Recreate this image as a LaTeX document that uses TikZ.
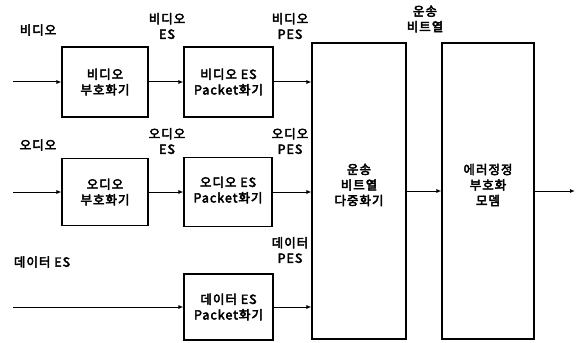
\documentclass[tikz,border=0pt]{standalone}
\usepackage{fontspec}
\setmainfont{Noto Sans CJK KR}[LetterSpace=8]
\usetikzlibrary{arrows.meta}
\newcommand{\heavytext}{\special{pdf:literal 2 Tr 0.45 w}}
\begin{document}
\begin{tikzpicture}[x=1pt,y=-1pt,
  blk/.style={draw,line width=1.1pt,inner sep=0pt},
  lbl/.style={font=\fontsize{12.5}{15.5}\selectfont,align=center,inner sep=0pt,
    execute at begin node=\heavytext},
  arr/.style={line width=1pt,-{Latex[length=5pt,width=4pt]}}]
\useasboundingbox (0,0) rectangle (577,342);
% boxes
\node[blk,minimum width=86pt,minimum height=70pt] (venc) at (105,82) {};
\node[blk,minimum width=89pt,minimum height=70pt] (vpkt) at (228.5,82) {};
\node[blk,minimum width=86pt,minimum height=67pt] (aenc) at (105,192) {};
\node[blk,minimum width=88pt,minimum height=69pt] (apkt) at (228,192) {};
\node[blk,minimum width=89pt,minimum height=66pt] (dpkt) at (228.5,307) {};
\node[blk,minimum width=94pt,minimum height=296pt] (mux) at (359,191) {};
\node[blk,minimum width=92pt,minimum height=296pt] (fec) at (488,191) {};
% box texts
\node[lbl] (tvenc) at (105,82) {비디오\\부호화기};
\node[lbl] (tvpkt) at (228.5,82) {비디오 ES\\Packet화기};
\node[lbl] (taenc) at (105,192) {오디오\\부호화기};
\node[lbl] (tapkt) at (228,190) {오디오 ES\\Packet화기};
\node[lbl] (tdpkt) at (228.5,307) {데이터 ES\\Packet화기};
\node[lbl] (tmux) at (359,185) {운송\\비트열\\다중화기};
\node[lbl] (tfec) at (488,185) {에러정정\\부호화\\모뎀};
% free labels
\node[lbl] (lv) at (38,30) {비디오};
\node[lbl] (lves) at (167,26) {비디오\\ES};
\node[lbl] (lvpes) at (290,26) {비디오\\PES};
\node[lbl] (lts) at (425,19) {운송\\비트열};
\node[lbl] (la) at (38,145) {오디오};
\node[lbl] (laes) at (167,141) {오디오\\ES};
\node[lbl] (lapes) at (290,141) {오디오\\PES};
\node[lbl] (ld) at (42,262) {데이터 ES};
\node[lbl] (ldpes) at (290,250) {데이터\\PES};
% connector ends
\coordinate (vin) at (13,82);
\coordinate (ain) at (13,192);
\coordinate (din) at (13,307);
\coordinate (out) at (575,191);
% connectors
\draw[arr] (vin) -- (venc.west);
\draw[arr] (venc.east) -- (vpkt.west);
\draw[arr] (vpkt.east) -- (vpkt.east -| mux.west);
\draw[arr] (ain) -- (aenc.west);
\draw[arr] (aenc.east) -- (apkt.west);
\draw[arr] (apkt.east) -- (apkt.east -| mux.west);
\draw[arr] (din) -- (dpkt.west);
\draw[arr] (dpkt.east) -- (dpkt.east -| mux.west);
\draw[arr] (mux.east) -- (fec.west);
\draw[arr] (fec.east) -- (out);
\end{tikzpicture}
\end{document}
